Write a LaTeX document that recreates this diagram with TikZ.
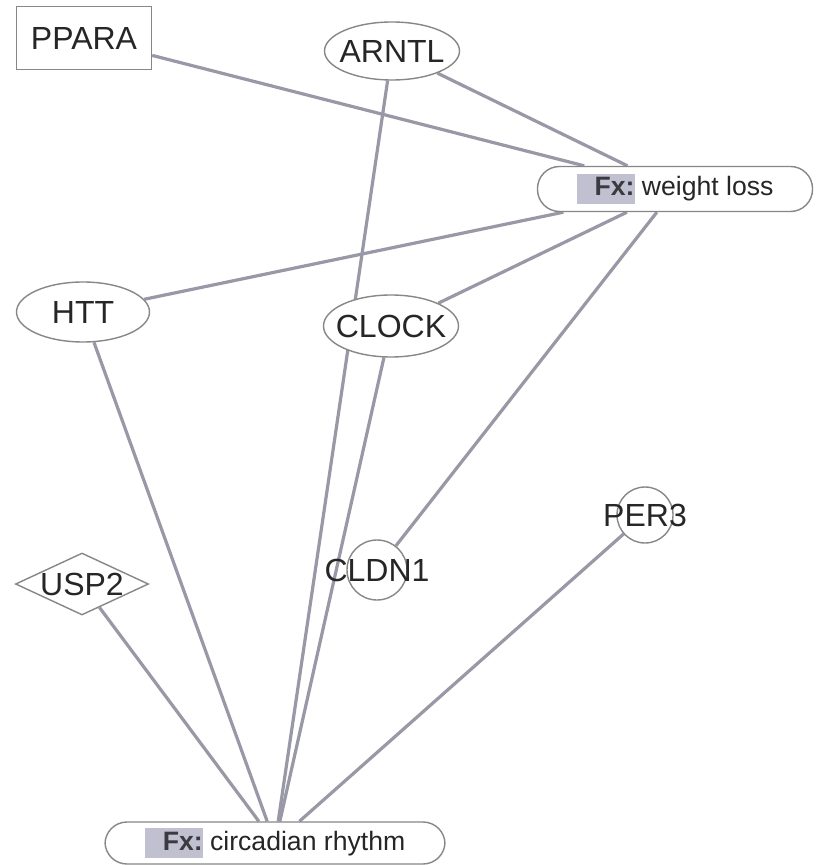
\documentclass[tikz,border=0pt]{standalone}
\usepackage{fontspec}
\setmainfont{Liberation Sans}
\usepackage{tikz}
\usetikzlibrary{
    shapes.geometric
}
\pgfdeclarelayer{bg}
\pgfsetlayers{bg,main}
\definecolor{edgegray}{RGB}{152,152,166}
\definecolor{rimgray}{RGB}{135,135,135}
\definecolor{fxshade}{RGB}{192,192,208}
\definecolor{fxink}{RGB}{58,58,64}
% shaded "Fx:" tag in front of a function name
\newcommand{\fxtag}{{\setlength{\fboxsep}{0pt}%
    \colorbox{fxshade}{\makebox[29pt][r]{\rule[-4pt]{0pt}{15pt}\textcolor{fxink}{\bfseries Fx:}}}}}
\tikzset{
    gene/.style={draw=rimgray, line width=0.7pt, fill=white, inner sep=0pt},
    genetext/.style={font=\fontsize{16}{18}\selectfont, text=black!85, inner sep=0pt},
    fxbox/.style={draw=rimgray, line width=0.7pt, fill=white, rounded corners=11pt,
        inner sep=0pt, font=\fontsize{13.3}{15}\selectfont, text=black!85},
    link/.style={draw=edgegray, line width=1.6pt}
}

\begin{document}
\begin{tikzpicture}[x=0.5pt, y=-0.5pt]
    \useasboundingbox (0,0) rectangle (827,865);
    % genes
    \node[gene, rectangle, minimum width=67.5pt, minimum height=31.5pt,
        label={[genetext]center:PPARA}] (ppara) at (84,38) {};
    \node[gene, ellipse, minimum width=67.5pt, minimum height=29pt,
        label={[genetext]center:ARNTL}] (arntl) at (392,51) {};
    \node[gene, ellipse, minimum width=66.5pt, minimum height=30pt,
        label={[genetext]center:HTT}] (htt) at (83,312) {};
    \node[gene, ellipse, minimum width=67.5pt, minimum height=31pt,
        label={[genetext]center:CLOCK}] (clock) at (391,326) {};
    \node[gene, circle, minimum size=30pt,
        label={[genetext]center:CLDN1}] (cldn) at (377,570) {};
    \node[gene, circle, minimum size=28pt,
        label={[genetext]center:PER3}] (per) at (645,515) {};
    \node[gene, diamond, minimum width=66.5pt, minimum height=31pt,
        label={[genetext]center:USP2}] (usp) at (82,584) {};
    % functions
    \node[fxbox, minimum width=137.5pt, minimum height=22.5pt] (wloss) at (675,189)
        {\fxtag\ weight loss};
    \node[fxbox, minimum width=170pt, minimum height=21pt] (circ) at (275,843)
        {\fxtag\ circadian rhythm};
    \begin{pgfonlayer}{bg}
        \fill[white] (0,0) rectangle (827,865);
        \foreach \g in {ppara,arntl,htt,clock,cldn}
            \draw[link] (\g) -- (wloss);
        \foreach \g in {usp,htt,arntl,clock,per}
            \draw[link] (\g) -- (circ);
    \end{pgfonlayer}
\end{tikzpicture}
\end{document}
